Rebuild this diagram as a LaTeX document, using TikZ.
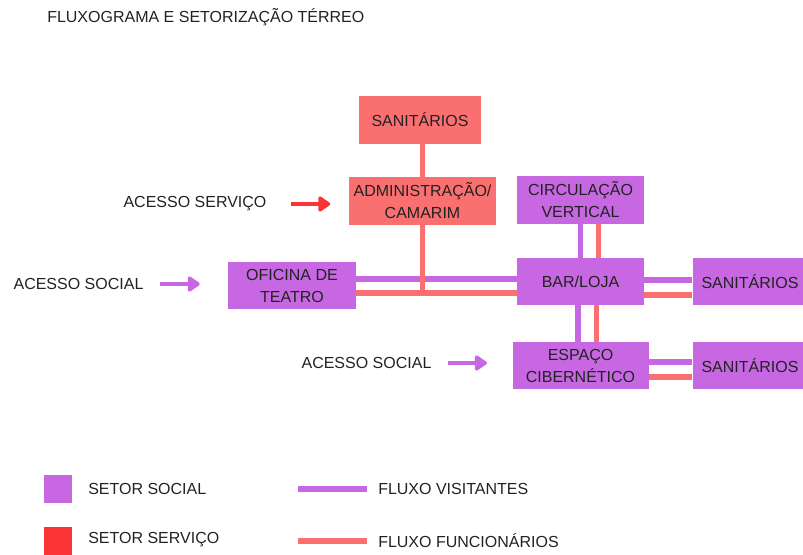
\documentclass[tikz,border=0pt]{standalone}
\usepackage{fontspec}
\setmainfont{Liberation Sans}
\usetikzlibrary{arrows.meta}

\definecolor{roxo}{HTML}{C767E2}
\definecolor{salmao}{HTML}{FA7070}
\definecolor{vermelho}{HTML}{FA3434}
\definecolor{texto}{HTML}{222222}

\tikzset{
    setor/.style={minimum width=#1, inner sep=0pt, align=center, font=\fontsize{12}{16.5}\selectfont, text=texto},
    social/.style={setor=#1, fill=roxo, minimum height=35.5pt},
    servico/.style={setor=#1, fill=salmao, minimum height=35.5pt},
    visit/.style={draw=roxo, line width=4pt},
    func/.style={draw=salmao, line width=4pt},
    rotulo/.style={font=\fontsize{12}{14.5}\selectfont, text=texto, inner sep=0pt},
    acesso/.style={draw=#1, fill=#1, line width=3pt, -{Triangle[length=10pt, width=13pt, round]}}
}

\begin{document}
\begin{tikzpicture}[x=0.75pt, y=-0.75pt]
    \useasboundingbox (0,0) rectangle (803,554);

    \node[rotulo, anchor=west] (titulo) at (47,17) {FLUXOGRAMA E SETORIZAÇÃO TÉRREO};

    % setores
    \node[servico=91.5pt] (sanitopo) at (420,120) {SANITÁRIOS};
    \node[servico=110pt] (admin) at (422.5,201) {ADMINISTRAÇÃO/\\CAMARIM};
    \node[social=96pt] (oficina) at (292,285.5) {OFICINA DE\\TEATRO};
    \node[social=95.5pt] (circ) at (580.5,200) {CIRCULAÇÃO\\VERTICAL};
    \node[social=95.5pt] (bar) at (580.5,281.5) {BAR/LOJA};
    \node[social=86pt] (sanibar) at (750,281.5) {SANITÁRIOS};
    \node[social=102pt] (espaco) at (580.5,365.5) {ESPAÇO\\CIBERNÉTICO};
    \node[social=86pt] (saniesp) at (750,365.5) {SANITÁRIOS};

    % fluxo visitantes
    \draw[visit] (oficina.east |- 0,279) -- (bar.west |- 0,279);
    \draw[visit] (circ.south) -- (bar.north);
    \draw[visit] ([xshift=-2pt]bar.south) -- ([xshift=-2pt]espaco.north);
    \draw[visit] (bar.east |- 0,280) -- (sanibar.west |- 0,280);
    \draw[visit] (espaco.east |- 0,362) -- (saniesp.west |- 0,362);

    % fluxo funcionarios
    \draw[func] (sanitopo.south -| admin.south) -- (admin.north);
    \draw[func] (admin.south) -- (admin.south |- 0,293);
    \draw[func] (oficina.east |- 0,293) -- (bar.west |- 0,293);
    \draw[func] ([xshift=13.5pt]circ.south) -- ([xshift=13.5pt]bar.north);
    \draw[func] ([xshift=12pt]bar.south) -- ([xshift=12pt]espaco.north);
    \draw[func] (bar.east |- 0,295) -- (sanibar.west |- 0,295);
    \draw[func] (espaco.east |- 0,377) -- (saniesp.west |- 0,377);

    % acessos
    \node[rotulo] (acservico) at (195,204) {ACESSO SERVIÇO};
    \node[rotulo] (acsocial) at (78.5,284) {ACESSO SOCIAL};
    \node[rotulo] (acsocial2) at (366.5,363) {ACESSO SOCIAL};
    \draw[acesso=vermelho] ([xshift=18pt]acservico.east) -- ([xshift=-14pt]admin.west |- acservico.east);
    \draw[acesso=roxo] ([xshift=12.5pt]acsocial.east) -- ([xshift=-21pt]oficina.west |- acsocial.east);
    \draw[acesso=roxo] ([xshift=12pt]acsocial2.east) -- ([xshift=-19pt]espaco.west |- acsocial2.east);

    % legenda
    \node[fill=roxo, minimum width=21pt, minimum height=21pt, inner sep=0pt] (legsocial) at (58,489) {};
    \node[fill=vermelho, minimum width=21pt, minimum height=21pt, inner sep=0pt] (legservico) at (58,541) {};
    \node[rotulo, anchor=west] (txtsocial) at (88,489) {SETOR SOCIAL};
    \node[rotulo, anchor=west] (txtservico) at (88,540) {SETOR SERVIÇO};
    \node[rotulo, anchor=west] (txtvisit) at (378,489) {FLUXO VISITANTES};
    \node[rotulo, anchor=west] (txtfunc) at (378,541) {FLUXO FUNCIONÁRIOS};
    \coordinate (legvisit) at (298,489);
    \coordinate (legfunc) at (298,541);
    \draw[visit] (legvisit) -- ([xshift=-8pt]txtvisit.west);
    \draw[func] (legfunc) -- ([xshift=-8pt]txtfunc.west);
\end{tikzpicture}
\end{document}
